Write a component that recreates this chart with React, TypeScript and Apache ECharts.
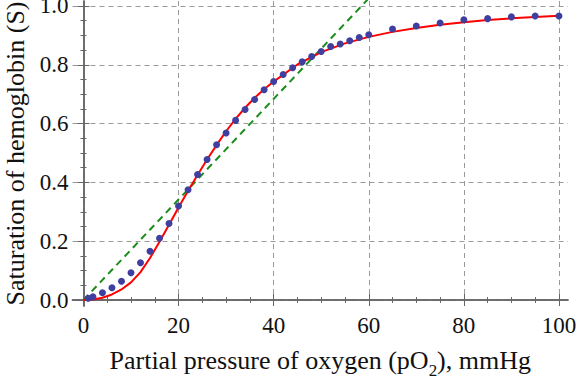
import React, { useEffect, useRef } from "react";
import * as echarts from "echarts";

// Measured points: partial pressure of O2 (mmHg) vs saturation
const pO2 = [1, 2, 4, 6, 8, 10, 12, 14, 16, 18, 20, 22, 24, 26, 28, 30, 32, 34, 36, 38, 40, 42, 44, 46, 48, 50, 52, 54, 56, 58, 60, 65, 70, 75, 80, 85, 90, 95, 100];
const saturation = [0.006, 0.011, 0.025, 0.042, 0.064, 0.093, 0.127, 0.166, 0.21, 0.26, 0.32, 0.375, 0.427, 0.478, 0.528, 0.568, 0.611, 0.648, 0.682, 0.715, 0.743, 0.767, 0.79, 0.81, 0.828, 0.845, 0.862, 0.871, 0.882, 0.893, 0.902, 0.922, 0.932, 0.942, 0.953, 0.957, 0.963, 0.966, 0.966];

// Fitted curve
const fitX = [0, 2, 4, 6, 8, 10, 12, 14, 16, 18, 20, 22, 24, 26, 28, 30, 32, 34, 36, 38, 40, 45, 50, 55, 60, 65, 70, 75, 80, 85, 90, 95, 100];
const fitY = [0, 0.002, 0.008, 0.019, 0.036, 0.06, 0.095, 0.143, 0.198, 0.256, 0.315, 0.372, 0.425, 0.478, 0.527, 0.574, 0.616, 0.654, 0.688, 0.717, 0.743, 0.801, 0.843, 0.873, 0.895, 0.912, 0.925, 0.936, 0.945, 0.952, 0.958, 0.963, 0.967];

// Tangent (green dashed) line
const lineX = [0, 60];
const lineY = [0, 1.026];

// Ticks
const xMajor = [0, 20, 40, 60, 80, 100];
const xMinor = [5, 10, 15, 25, 30, 35, 45, 50, 55, 65, 70, 75, 85, 90, 95];
const yMajor = [0, 0.2, 0.4, 0.6, 0.8, 1.0];
const yMinor = [0.05, 0.1, 0.15, 0.25, 0.3, 0.35, 0.45, 0.5, 0.55, 0.65, 0.7, 0.75, 0.85, 0.9, 0.95];

const X_MIN = -2.3;
const X_MAX = 101.9;
const Y_MIN = -0.0203;
const Y_MAX = 1.017;

const FONT = "Liberation Serif";
const FRAME = "#666666";
const TICK_FS = 23;
const TITLE_FS = 26;

function zip(a: number[], b: number[]) {
  return a.map((v, i) => [v, b[i]]);
}

export default function App() {
  const ref = useRef<HTMLDivElement>(null);
  useEffect(() => {
    if (!ref.current) return;
    const chart = echarts.init(ref.current, undefined, { renderer: "svg" });

    const baseX = (position: "bottom" | "top", major: boolean, main: boolean) => ({
      type: "value",
      position,
      min: X_MIN,
      max: X_MAX,
      axisLine: { show: major, lineStyle: { color: FRAME, width: 1.5 } },
      axisTick: {
        show: true,
        inside: true,
        length: major ? 6 : 3,
        customValues: major ? xMajor : xMinor,
        lineStyle: { color: FRAME, width: 1 },
      },
      axisLabel: main
        ? {
            show: true,
            customValues: xMajor,
            formatter: (v: number) => String(Math.round(v)),
            fontFamily: FONT,
            fontSize: TICK_FS,
            color: "#111",
            margin: 8,
          }
        : { show: false },
      splitLine: main
        ? { show: true, lineStyle: { color: "#9a9a9a", type: [5, 4], width: 1 } }
        : { show: false },
      name: main ? "{a|Partial pressure of oxygen (pO}{s|2}{a|), mmHg}" : "",
      nameLocation: "middle",
      nameGap: 41,
      nameTextStyle: {
        fontFamily: FONT,
        rich: {
          a: { fontFamily: FONT, fontSize: TITLE_FS, color: "#111", verticalAlign: "bottom" },
          s: { fontFamily: FONT, fontSize: 17, color: "#111", verticalAlign: "bottom", padding: [0, 0, -6, 0] },
        },
      },
    });

    const baseY = (position: "left" | "right", major: boolean, main: boolean) => ({
      type: "value",
      position,
      min: Y_MIN,
      max: Y_MAX,
      axisLine: { show: major, lineStyle: { color: FRAME, width: 1.5 } },
      axisTick: {
        show: true,
        inside: true,
        length: major ? 6 : 3,
        customValues: major ? yMajor : yMinor,
        lineStyle: { color: FRAME, width: 1 },
      },
      axisLabel: main
        ? {
            show: true,
            customValues: yMajor,
            formatter: (v: number) => v.toFixed(1),
            fontFamily: FONT,
            fontSize: TICK_FS,
            color: "#111",
            margin: 4,
          }
        : { show: false },
      splitLine: main
        ? { show: true, lineStyle: { color: "#9a9a9a", type: [5, 4], width: 1 } }
        : { show: false },
      name: main ? "Saturation of hemoglobin (S)" : "",
      nameLocation: "middle",
      nameGap: 44,
      nameTextStyle: { fontFamily: FONT, fontSize: TITLE_FS, color: "#111" },
    });

    chart.setOption({
      animation: false,
      backgroundColor: "#ffffff",
      textStyle: { fontFamily: FONT },
      grid: { left: 72.5, right: 11, top: 1, bottom: 79, containLabel: false, outerBoundsMode: "none" },
      xAxis: [
        baseX("bottom", true, true),
        baseX("bottom", false, false),
        baseX("top", true, false),
        baseX("top", false, false),
      ],
      yAxis: [
        baseY("left", true, true),
        baseY("left", false, false),
        baseY("right", true, false),
        baseY("right", false, false),
      ],
      series: [
        {
          type: "line",
          data: zip(lineX, lineY),
          showSymbol: false,
          clip: true,
          lineStyle: { color: "#1a8c1a", width: 2, type: [7, 5] },
          z: 2,
        },
        {
          type: "line",
          data: zip(fitX, fitY),
          showSymbol: false,
          smooth: false,
          clip: true,
          lineStyle: { color: "#ff0000", width: 2, join: "round" },
          z: 3,
        },
        {
          type: "scatter",
          data: zip(pO2, saturation),
          symbol: "circle",
          symbolSize: 7,
          itemStyle: { color: "#3f3f9f", opacity: 1 },
          z: 4,
        },
      ],
    });
    return () => chart.dispose();
  }, []);
  return (
    <div
      ref={ref}
      style={{ position: "fixed", left: 0, top: 0, width: 579, height: 385 }}
    />
  );
}
